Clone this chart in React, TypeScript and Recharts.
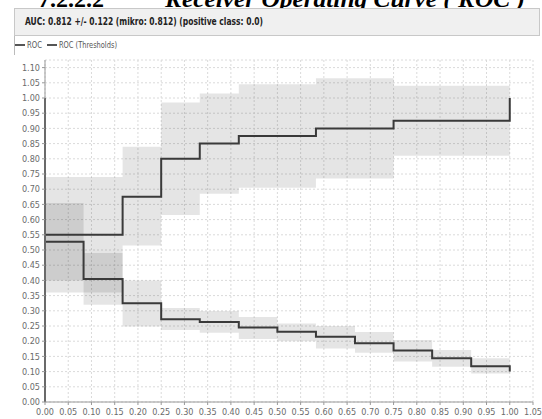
import React from 'react';
import {
  ComposedChart,
  Line,
  Area,
  XAxis,
  YAxis,
  CartesianGrid,
} from 'recharts';

// false positive rate breakpoints (12 folds)
const fpr = [0, 0.083, 0.167, 0.25, 0.333, 0.417, 0.5, 0.583, 0.667, 0.75, 0.833, 0.917, 1.0];

// ROC curve, per step
const rocTpr = [0.55, 0.55, 0.675, 0.8, 0.85, 0.875, 0.875, 0.9, 0.9, 0.925, 0.925, 0.925];
const rocLow = [0.36, 0.36, 0.515, 0.615, 0.685, 0.705, 0.705, 0.735, 0.735, 0.81, 0.81, 0.81];
const rocHigh = [0.74, 0.74, 0.84, 0.985, 1.015, 1.045, 1.045, 1.065, 1.065, 1.04, 1.04, 1.04];
const rocStart = 0;
const rocEnd = 1.0;

// ROC (Thresholds), per step
const thr = [0.527, 0.405, 0.325, 0.272, 0.263, 0.245, 0.231, 0.215, 0.193, 0.169, 0.144, 0.118];
const thrLow = [0.4, 0.32, 0.248, 0.237, 0.228, 0.207, 0.2, 0.176, 0.162, 0.133, 0.116, 0.094];
const thrHigh = [0.655, 0.49, 0.4, 0.309, 0.299, 0.28, 0.258, 0.25, 0.23, 0.204, 0.171, 0.144];
const thrStart = 1.0;
const thrEnd = 0.1;

const xTicks = [0, 0.05, 0.1, 0.15, 0.2, 0.25, 0.3, 0.35, 0.4, 0.45, 0.5, 0.55, 0.6, 0.65, 0.7, 0.75, 0.8, 0.85, 0.9, 0.95, 1.0, 1.05];
const yTicks = [0, 0.05, 0.1, 0.15, 0.2, 0.25, 0.3, 0.35, 0.4, 0.45, 0.5, 0.55, 0.6, 0.65, 0.7, 0.75, 0.8, 0.85, 0.9, 0.95, 1.0, 1.05, 1.1];

const headerText = 'AUC: 0.812 +/- 0.122 (mikro: 0.812) (positive class: 0.0)';

const curve = (start: number, vals: number[], end: number) => {
  const pts = [{ x: fpr[0], y: start }];
  vals.forEach((v, i) => pts.push({ x: fpr[i], y: v }));
  pts.push({ x: fpr[fpr.length - 1], y: vals[vals.length - 1] });
  pts.push({ x: fpr[fpr.length - 1], y: end });
  return pts;
};

const band = (lo: number[], hi: number[]) => {
  const pts = lo.map((l, i) => ({ x: fpr[i], r: [l, hi[i]] }));
  pts.push({ x: fpr[fpr.length - 1], r: [lo[lo.length - 1], hi[hi.length - 1]] });
  return pts;
};

const rocLine = curve(rocStart, rocTpr, rocEnd);
const thrLine = curve(thrStart, thr, thrEnd);
const rocBand = band(rocLow, rocHigh);
const thrBand = band(thrLow, thrHigh);

const font = '"Liberation Sans Narrow", "DejaVu Sans Condensed", "Liberation Sans", sans-serif';
const tick = { fill: '#6b6b6b', fontSize: 9, fontFamily: font };

export default function App() {
  return (
    <div style={{ position: 'absolute', left: 0, top: 0, width: 542, height: 419, background: '#fff', overflow: 'hidden' }}>
      <ComposedChart
        width={542}
        height={419}
        margin={{ top: 60, right: 9, bottom: 0, left: 10 }}
      >
        <CartesianGrid xAxisId="b" yAxisId="l" stroke="#dadada" strokeDasharray="2 2" />
        <XAxis
          xAxisId="b"
          type="number"
          dataKey="x"
          domain={[0, 1.05]}
          ticks={xTicks}
          interval={0}
          height={17}
          tick={tick}
          tickMargin={4}
          tickSize={3}
          tickLine={{ stroke: '#999' }}
          axisLine={{ stroke: '#999' }}
          tickFormatter={(v: number) => v.toFixed(2)}
        />
        <XAxis
          xAxisId="t"
          orientation="top"
          type="number"
          dataKey="x"
          domain={[0, 1.05]}
          height={0}
          tick={false}
          tickLine={false}
          axisLine={{ stroke: '#aaa' }}
        />
        <YAxis
          yAxisId="l"
          type="number"
          domain={[0, 1.125]}
          ticks={yTicks}
          interval={0}
          width={35}
          tick={tick}
          tickMargin={2}
          tickSize={3}
          tickLine={{ stroke: '#999' }}
          axisLine={{ stroke: '#999' }}
          tickFormatter={(v: number) => v.toFixed(2)}
        />
        <YAxis
          yAxisId="r"
          orientation="right"
          type="number"
          domain={[0, 1.125]}
          width={0}
          tick={false}
          tickLine={false}
          axisLine={{ stroke: '#aaa' }}
        />
        <Area
          xAxisId="b"
          yAxisId="l"
          data={rocBand}
          dataKey="r"
          type="stepAfter"
          stroke="none"
          fill="#000"
          fillOpacity={0.1}
          isAnimationActive={false}
          dot={false}
          activeDot={false}
        />
        <Area
          xAxisId="b"
          yAxisId="l"
          data={thrBand}
          dataKey="r"
          type="stepAfter"
          stroke="none"
          fill="#000"
          fillOpacity={0.1}
          isAnimationActive={false}
          dot={false}
          activeDot={false}
        />
        <Line
          xAxisId="b"
          yAxisId="l"
          data={thrLine}
          dataKey="y"
          type="stepAfter"
          stroke="#3a3a3a"
          strokeWidth={2}
          dot={false}
          activeDot={false}
          isAnimationActive={false}
        />
        <Line
          xAxisId="b"
          yAxisId="l"
          data={rocLine}
          dataKey="y"
          type="stepAfter"
          stroke="#3a3a3a"
          strokeWidth={2}
          dot={false}
          activeDot={false}
          isAnimationActive={false}
        />
      </ComposedChart>
      <svg width={542} height={60} style={{ position: 'absolute', left: 0, top: 0 }}>
        <g fontFamily='"Liberation Serif", serif' fontWeight="bold" fontStyle="italic" fontSize={24} fill="#000">
          <text x={38} y={7} textLength={66} lengthAdjust="spacingAndGlyphs" fontStyle="normal">7.2.2.2</text>
          <text x={165} y={7} textLength={360} lengthAdjust="spacingAndGlyphs">Receiver Operating Curve ( ROC )</text>
        </g>
        <rect x={14.5} y={8.5} width={525} height={27} fill="#f0f0f0" stroke="#c8c8c8" />
        <text x={25} y={25} fontFamily={font} fontWeight="bold" fontSize={10} fill="#222" textLength={238} lengthAdjust="spacingAndGlyphs">
          {headerText}
        </text>
        <line x1={14.5} y1={36} x2={14.5} y2={55} stroke="#bbb" />
        <line x1={15} y1={45} x2={25} y2={45} stroke="#555" strokeWidth={2} />
        <text x={27} y={48} fontFamily={font} fontSize={9} fill="#555" textLength={15} lengthAdjust="spacingAndGlyphs">ROC</text>
        <line x1={47} y1={45} x2={57} y2={45} stroke="#555" strokeWidth={2} />
        <text x={59} y={48} fontFamily={font} fontSize={9} fill="#555" textLength={58} lengthAdjust="spacingAndGlyphs">ROC (Thresholds)</text>
      </svg>
    </div>
  );
}
